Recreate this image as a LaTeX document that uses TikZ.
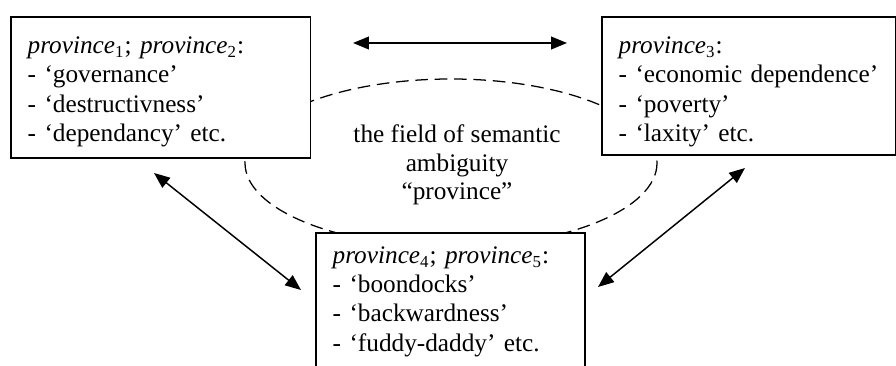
\documentclass[tikz,border=0pt]{standalone}
\usepackage{fontspec}
\setmainfont{Liberation Serif}
\usetikzlibrary{arrows.meta, positioning}
\tikzset{>={Triangle[length=7.5pt,width=6pt]}}
\tikzset{
	sensebox/.style={draw, line width=0.8pt, fill=white, anchor=north west, align=left, inner xsep=8pt, inner ysep=0pt, text height=17.6pt, text depth=49.4pt, font=\fontsize{12pt}{13.8pt}\selectfont},
	link/.style={<->, line width=0.7pt},
}
\newcommand{\prv}[1]{\textit{province}\textsubscript{#1}}

\begin{document}
\begin{tikzpicture}[x=0.4748pt, y=-0.4748pt]
			\useasboundingbox (0,0) rectangle (896,365);
			\clip (0,0) rectangle (896,365);
			\draw [line width=0.6pt, dash pattern=on 6pt off 3.2pt] (451,163) ellipse [x radius=206, y radius=84];
			\node [sensebox, text width=126.2pt] (left) at (10,16) {\prv{1}; \prv{2}:\\- ‘governance’\\- ‘destructivness’\\- ‘dependancy’ etc.};
			\node [sensebox, text width=123.6pt, text depth=48pt] (right) at (601,16) {\prv{3}:\\- ‘economic dependence’\\- ‘poverty’\\- ‘laxity’ etc.};
			\node [sensebox, text width=111.7pt, text height=14.7pt] (bottom) at (315,232) {\prv{4}; \prv{5}:\\- ‘boondocks’\\- ‘backwardness’\\- ‘fuddy-daddy’ etc.};
			\node [align=center, font=\fontsize{12pt}{13.5pt}\selectfont] (field) at (457,165) {the field of semantic\\ambiguity\\“province”};
			\coordinate (topL) at (353,43);
			\coordinate (topR) at (567,43);
			\coordinate (diagL1) at (154,173);
			\coordinate (diagL2) at (301,290);
			\coordinate (diagR1) at (745,168);
			\coordinate (diagR2) at (598,287);
			\draw [link] (topL) -- (topR);
			\draw [link] (diagL1) -- (diagL2);
			\draw [link] (diagR1) -- (diagR2);
		\end{tikzpicture}
\end{document}
